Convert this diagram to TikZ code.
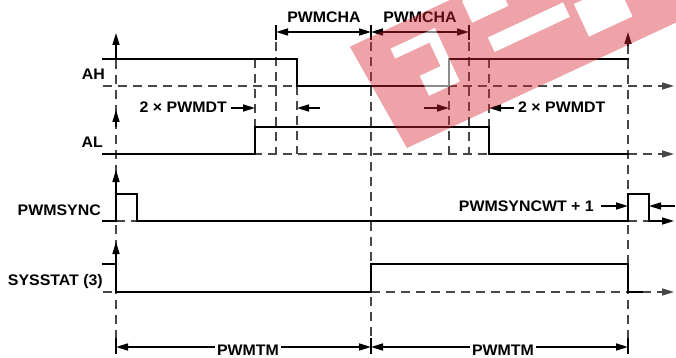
\documentclass[tikz,border=0pt]{standalone}
\usepackage{fontspec}
\setmainfont{Liberation Sans}[FakeStretch=1.04]
\usetikzlibrary{arrows.meta}
\definecolor{wmred}{RGB}{215,35,50}
\begin{document}
\begin{tikzpicture}[x=1pt,y=-1pt,
  sig/.style={line width=2.8pt, line join=miter, line cap=rect},
  dsh/.style={line width=1.5pt, draw=black!72, dash pattern=on 9pt off 6pt},
  dim/.style={line width=1.6pt},
  tip/.style={-{Triangle[length=12pt,width=7pt]}},
  twotip/.style={{Triangle[length=12pt,width=7pt]}-{Triangle[length=12pt,width=7pt]}},
  lab/.style={font=\fontsize{15.3}{17}\selectfont\bfseries, inner sep=0pt},
]
\useasboundingbox (0,0) rectangle (676,358);

% ---------- key coordinates ----------
\coordinate (L0) at (116,33);  \coordinate (L1) at (116,356);
\coordinate (M0) at (371,27);  \coordinate (M1) at (371,356);
\coordinate (R0) at (628,45);  \coordinate (R1) at (628,356);

% ---------- long vertical dashed lines ----------
\draw[dsh] (116,45) -- (L1);
\draw[dsh] (M0) -- (M1);
\draw[dsh] (R0) -- (R1);
% axis arrowheads
\draw[dim,tip] (116,59) -- (L0);
\draw[dim,tip] (116,127) -- (116,110);
\draw[dim,tip] (116,194) -- (116,170);
\draw[dim,tip] (116,264) -- (116,242);
\draw[dim,tip] (628,46) -- (628,32);

% ---------- short vertical dashed lines ----------
\draw[dsh] (255,59) -- (255,127);
\draw[dsh] (276,27) -- (276,154);
\draw[dsh] (297,86) -- (297,154);
\draw[dsh] (449,86) -- (449,154);
\draw[dsh] (469,27) -- (469,154);
\draw[dsh] (489,59) -- (489,127);

% ---------- baselines ----------
\draw[dsh,tip] (103,86) -- (674,86);
\draw[dsh,tip] (103,154) -- (674,154);
\draw[dsh] (116,221) -- (137,221);
\draw[dsh] (628,221) -- (649,221);
\draw[dsh] (103,292) -- (116,292);
\draw[dsh] (371,292) -- (628,292);
\draw[dsh,tip] (642,292) -- (674,292);

% ---------- signals ----------
\draw[sig] (103,59) -- (297,59) -- (297,86) -- (449,86) -- (449,59) -- (628,59);
\draw[sig] (103,154) -- (255,154) -- (255,127) -- (489,127) -- (489,154) -- (628,154);
\draw[sig] (103,221) -- (116,221) -- (116,194) -- (137,194) -- (137,221) -- (628,221) -- (628,194) -- (649,194) -- (649,221) -- (660,221);
\draw[dim,tip] (655,221) -- (674,221);
\draw[sig] (103,264) -- (116,264) -- (116,292) -- (371,292) -- (371,264) -- (628,264) -- (628,292) -- (642,292);

% ---------- labels ----------
\node[lab, anchor=base east] (ah) at (105,80) {AH};
\node[lab, anchor=base east] (al) at (103,148) {AL};
\node[lab, anchor=base east] (ps) at (101,215) {PWMSYNC};
\node[lab, anchor=base east] (ss) at (103,285) {SYSSTAT (3)};

% ---------- PWMCHA ----------
\coordinate (c1a) at (276,32); \coordinate (c1b) at (371,32); \coordinate (c2b) at (469,32);
\draw[dim,twotip] (c1a) -- (c1b);
\draw[dim,twotip] (c1b) -- (c2b);
\node[lab, anchor=base] (cha1) at (324,23) {PWMCHA};
\node[lab, anchor=base] (cha2) at (420,23) {PWMCHA};

% ---------- PWMDT ----------
\node[lab, anchor=base east] (dt1) at (227,113) {2 × PWMDT};
\coordinate (dt1a) at (231,108);
\draw[dim,tip] (dt1a) -- (255,108);
\draw[dim,tip] (320,108) -- (297,108);
\draw[dim,tip] (424,108) -- (449,108);
\node[lab, anchor=base west] (dt2) at (518,113) {2 × PWMDT};
\coordinate (dt2a) at (514,108);
\draw[dim,tip] (dt2a) -- (489,108);

% ---------- PWMSYNCWT ----------
\node[lab, anchor=base east] (wt) at (594,211) {PWMSYNCWT + 1};
\draw[dim,tip] (601,206) -- (628,206);
\draw[dim,tip] (675,206) -- (649,206);

% ---------- PWMTM ----------
\coordinate (t0) at (116,347); \coordinate (t1) at (371,347); \coordinate (t2) at (628,347);
\draw[dim,twotip] (t0) -- (t1);
\draw[dim,twotip] (t1) -- (t2);
\node[lab, anchor=base, fill=white, inner xsep=2pt, inner ysep=1pt] (tm1) at (248,355) {PWMTM};
\node[lab, anchor=base, fill=white, inner xsep=2pt, inner ysep=1pt] (tm2) at (503,355) {PWMTM};
% end ticks
\foreach \xx in {116,371,628} \draw[dim] (\xx,338) -- (\xx,354);
\foreach \xx in {276,371,469} \draw[dim] (\xx,25) -- (\xx,40);

% ---------- watermark ----------
\begin{scope}
\clip (0,0) rectangle (676,358);
\begin{scope}[shift={(407,148)}, rotate=25]
\fill[wmred, fill opacity=0.42, even odd rule]
  (0,0) -- (-9,-116) -- (400,-116) -- (400,0) -- cycle
  (27,-86) -- (27,-97) -- (76,-97) -- (76,-38) -- (42,-38) -- (42,-60) -- (65,-60) -- (65,-86) -- cycle
  (112,-86) rectangle (152,-110)
  (120,-50) rectangle (203,-66)
  (212,-24) rectangle (260,-60);
\fill[white, fill opacity=0.55]
  (27,-86) -- (27,-97) -- (76,-97) -- (76,-38) -- (42,-38) -- (42,-60) -- (65,-60) -- (65,-86) -- cycle
  (112,-86) rectangle (152,-110)
  (120,-50) rectangle (203,-66)
  (212,-24) rectangle (260,-60);
\end{scope}
\end{scope}
\end{tikzpicture}
\end{document}
